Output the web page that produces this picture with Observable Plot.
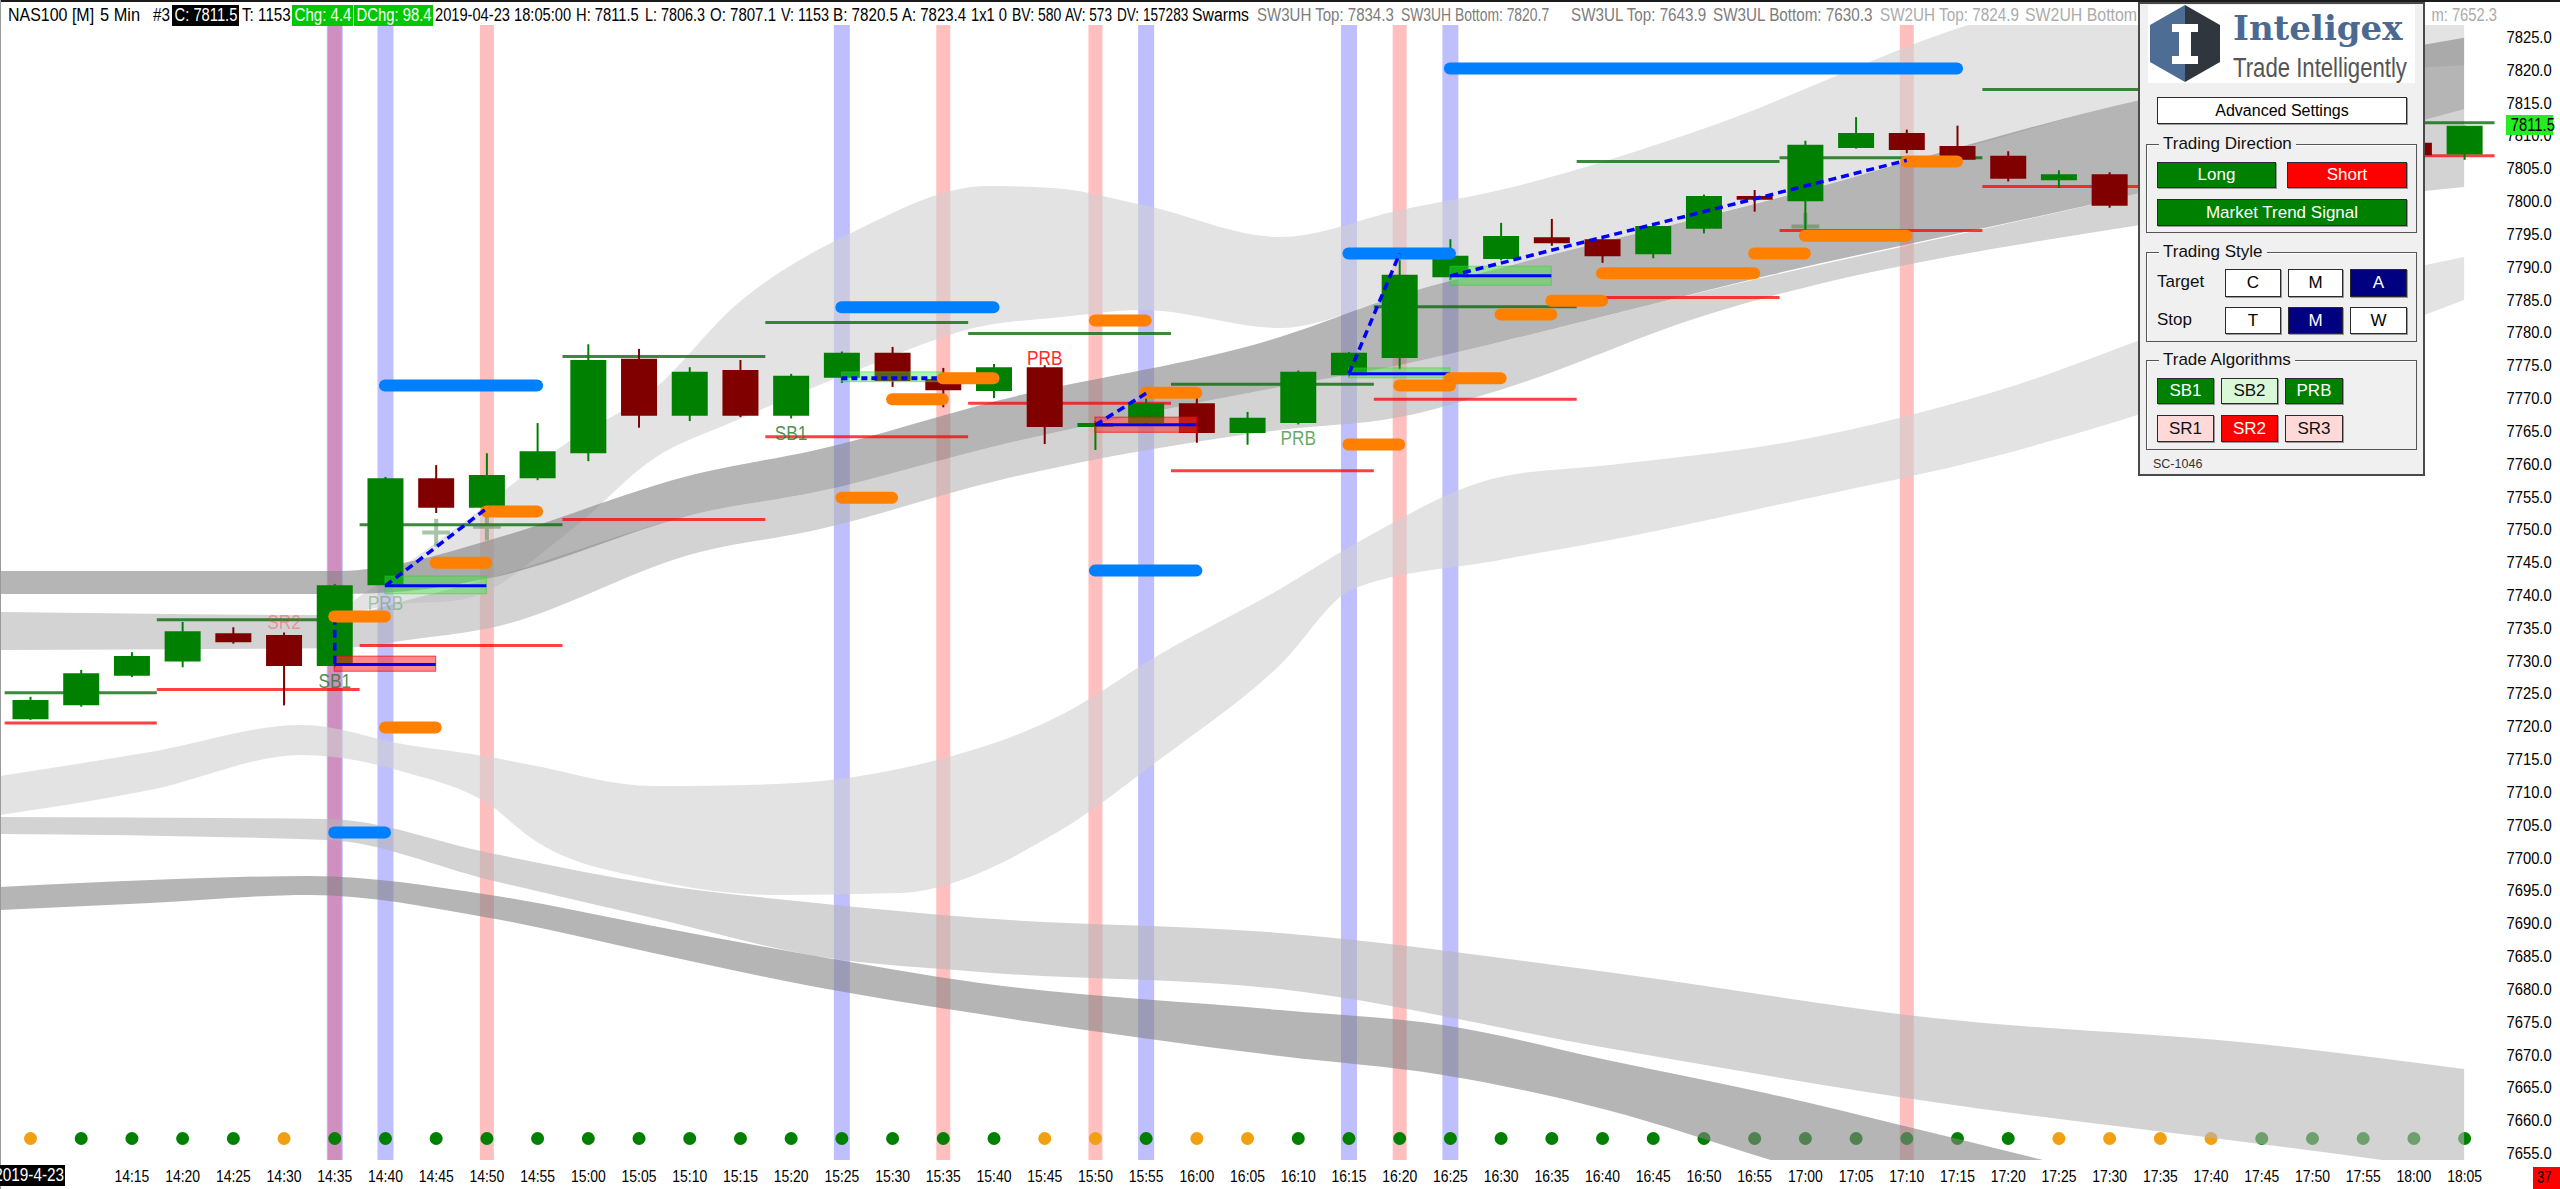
<!DOCTYPE html>
<html>
<head>
<meta charset="utf-8">
<script src="https://cdn.jsdelivr.net/npm/d3@7"></script>
<script src="https://cdn.jsdelivr.net/npm/@observablehq/plot@0.6"></script>
<style>
html,body{margin:0;padding:0;background:#fff;}
#page{position:relative;width:2560px;height:1189px;overflow:hidden;background:#fff;font-family:"Liberation Sans",Arial,sans-serif;}
#chart{position:absolute;left:0;top:0;}
#header{position:absolute;left:0;top:0;width:2560px;height:25px;background:#fff;border-top:2px solid #1b1b1b;box-sizing:border-box;z-index:2;}
.h{position:absolute;top:3px;height:21px;line-height:21px;font-size:18px;white-space:pre;color:#000;transform:scaleX(0.82);transform-origin:0 50%;}
.hbox{position:absolute;top:3px;height:21px;overflow:hidden;}
.hbox span{position:absolute;left:50%;top:0;line-height:21px;font-size:18px;white-space:pre;color:#fff;transform:translateX(-50%) scaleX(0.82);}
#panel{position:absolute;left:2138px;top:2px;width:287px;height:474px;background:#f0f0f0;border:2px solid #4a4a4a;box-sizing:border-box;z-index:5;}
.btn{position:absolute;box-sizing:border-box;border:1px solid #2a2a2a;box-shadow:1px 1px 0 #9a9a9a;display:flex;align-items:center;justify-content:center;font-size:17px;white-space:nowrap;}
.grp{position:absolute;box-sizing:border-box;border:1px solid #555;box-shadow:inset 1px 1px 0 #fff;}
.leg{position:absolute;padding:0 4px;background:#f0f0f0;font-size:17px;line-height:20px;color:#111;white-space:nowrap;}
.lbl{position:absolute;font-size:17px;line-height:24px;color:#111;}
.w{background:#fff;color:#000;} .g{background:#008000;color:#fff;} .r{background:#ff0000;color:#fff;} .n{background:#000080;color:#fff;}
.lg{background:#d8f8d8;color:#111;} .pk{background:#ffd8d8;color:#111;}
.sq{display:inline-block;transform:scaleX(0.82);transform-origin:50% 50%;white-space:nowrap;}
</style>
</head>
<body>
<div id="page">
  <div id="chart"></div>
  <div style="position:absolute;left:0;top:0;width:1px;height:1189px;background:#9a9a9a;z-index:3"></div>
  <div id="header"></div>
  <div id="panel">
    <div style="position:absolute;left:8px;top:1px;width:267px;height:78px;background:#fff"></div>
    <svg style="position:absolute;left:10px;top:1px" width="70" height="77" viewBox="0 0 70 77">
      <polygon points="35,0 0,20 0,57 35,77" fill="#4d6d95"/>
      <polygon points="35,0 70,20 70,57 35,77" fill="#2f363d"/>
      <rect x="22" y="19" width="26" height="8" fill="#fff"/>
      <rect x="29" y="26" width="12" height="26" fill="#fff"/>
      <rect x="22" y="51" width="26" height="8" fill="#fff"/>
    </svg>
    <div style="position:absolute;left:93px;top:7px;font-family:'DejaVu Serif',serif;font-weight:bold;font-size:34px;line-height:34px;color:#4a6a94;white-space:nowrap">Inteligex</div>
    <div style="position:absolute;left:93px;top:51px;font-size:27px;line-height:27px;color:#555;white-space:nowrap;transform:scaleX(0.82);transform-origin:0 50%">Trade Intelligently</div>
    <div class="btn w" style="left:17px;top:93px;width:250px;height:27px;font-size:16px">Advanced Settings</div>

    <div class="grp" style="left:6px;top:140px;width:271px;height:89px"></div>
    <div class="leg" style="left:19px;top:130px">Trading Direction</div>
    <div class="btn g" style="left:17px;top:158px;width:119px;height:26px">Long</div>
    <div class="btn r" style="left:147px;top:158px;width:120px;height:26px">Short</div>
    <div class="btn g" style="left:17px;top:195px;width:250px;height:27px">Market Trend Signal</div>

    <div class="grp" style="left:6px;top:248px;width:271px;height:90px"></div>
    <div class="leg" style="left:19px;top:238px">Trading Style</div>
    <div class="lbl" style="left:17px;top:266px">Target</div>
    <div class="btn w" style="left:85px;top:265px;width:56px;height:28px">C</div>
    <div class="btn w" style="left:148px;top:265px;width:55px;height:28px">M</div>
    <div class="btn n" style="left:210px;top:265px;width:57px;height:28px">A</div>
    <div class="lbl" style="left:17px;top:304px">Stop</div>
    <div class="btn w" style="left:85px;top:303px;width:56px;height:27px">T</div>
    <div class="btn n" style="left:148px;top:303px;width:55px;height:27px">M</div>
    <div class="btn w" style="left:210px;top:303px;width:57px;height:27px">W</div>

    <div class="grp" style="left:6px;top:356px;width:271px;height:90px"></div>
    <div class="leg" style="left:19px;top:346px">Trade Algorithms</div>
    <div class="btn g" style="left:17px;top:374px;width:57px;height:26px">SB1</div>
    <div class="btn lg" style="left:81px;top:374px;width:57px;height:26px">SB2</div>
    <div class="btn g" style="left:145px;top:374px;width:58px;height:26px">PRB</div>
    <div class="btn pk" style="left:17px;top:411px;width:57px;height:27px">SR1</div>
    <div class="btn r" style="left:81px;top:411px;width:57px;height:27px">SR2</div>
    <div class="btn pk" style="left:145px;top:411px;width:58px;height:27px">SR3</div>
    <div style="position:absolute;left:13px;top:453px;font-size:12.5px;line-height:14px;color:#333">SC-1046</div>
  </div>
  <div style="position:absolute;left:2506px;top:115px;width:47px;height:20px;line-height:20px;background:#22ee22;color:#000;font-size:18px;text-align:center;z-index:4"><span class="sq">7811.5</span></div>
  <div style="position:absolute;left:0;top:1165px;width:65px;height:21px;line-height:21px;background:#000;color:#fff;font-size:18px;overflow:hidden;white-space:nowrap;z-index:4"><span style="position:absolute;right:1px;top:0;transform:scaleX(0.85);transform-origin:100% 50%">2019-4-23</span></div>
  <div style="position:absolute;left:2533px;top:1167px;width:27px;height:22px;line-height:22px;background:#ff0000;color:#000;font-size:16px;text-align:left;z-index:4"><span style="position:absolute;left:4px;top:0;transform:scaleX(0.82);transform-origin:0 50%">37</span></div>
</div>
<script>
// ---------------- data ----------------
const times = ["14:05","14:10","14:15","14:20","14:25","14:30","14:35","14:40","14:45","14:50","14:55",
  "15:00","15:05","15:10","15:15","15:20","15:25","15:30","15:35","15:40","15:45","15:50","15:55",
  "16:00","16:05","16:10","16:15","16:20","16:25","16:30","16:35","16:40","16:45","16:50","16:55",
  "17:00","17:05","17:10","17:15","17:20","17:25","17:30","17:35","17:40","17:45","17:50","17:55",
  "18:00","18:05"];
// bars 42-46 are hidden behind the settings panel
const opens  = [7721.1,7723.2,7727.7,7729.9,7734.2,7733.9,7729.2,7741.5,7757.8,7753.3,7757.8,7761.6,7776.0,7767.3,7774.3,7767.3,7773.1,7776.9,7772.9,7771.1,7774.7,7765.6,7766.2,7769.2,7764.7,7766.2,7773.5,7776.1,7788.4,7791.2,7794.5,7794.2,7791.9,7795.8,7800.8,7800.0,7808.1,7810.4,7808.4,7806.9,7803.2,7804.1,null,null,null,null,null,7808.9,7807.1];
const highs  = [7724.5,7728.6,7731.3,7735.9,7735.1,7734.3,7741.7,7758.0,7759.8,7761.6,7766.2,7778.2,7777.5,7774.7,7775.8,7773.7,7777.1,7777.8,7774.6,7775.2,7775.0,7766.5,7770.0,7770.0,7767.9,7774.2,7777.0,7791.0,7794.2,7796.7,7797.3,7794.7,7796.6,7801.0,7801.7,7809.2,7812.8,7810.9,7811.5,7807.6,7804.7,7804.4,null,null,null,null,null,7809.2,7811.5];
const lows   = [7721.0,7723.0,7727.5,7729.0,7732.6,7723.2,7729.0,7741.3,7752.5,7752.5,7757.5,7760.4,7765.5,7766.5,7767.1,7766.9,7772.3,7771.7,7768.6,7770.0,7763.0,7762.1,7766.0,7763.2,7762.9,7766.0,7773.3,7774.4,7788.0,7791.0,7793.2,7790.6,7791.3,7795.1,7798.4,7795.6,7808.0,7807.3,7806.0,7803.0,7802.0,7799.0,null,null,null,null,null,7806.8,7806.3];
const closes = [7724.0,7728.1,7730.7,7734.5,7732.8,7729.2,7741.5,7757.8,7753.3,7758.3,7761.9,7775.8,7767.3,7774.0,7767.3,7773.4,7776.9,7772.6,7771.2,7774.7,7765.6,7766.2,7769.2,7764.7,7767.0,7774.0,7776.9,7788.8,7791.7,7794.7,7793.6,7791.6,7796.2,7800.8,7800.2,7808.6,7810.4,7807.8,7806.3,7803.4,7804.1,7799.3,null,null,null,null,null,7807.0,7811.5];

// faint ghost markers: [bar, price]
const ghostMarks = [[8,7749.6],[9,7750.5],[35,7796.2]];

// bottom signal row state per bar: A = amber, G = green
const signalState = ["A","G","G","G","G","A","G","G","G","G","G","G","G","G","G","G","G","G","G","G","A","A","G","A","A",
  "G","G","G","G","G","G","G","G","G","G","G","G","G","G","G","A","A","A","A","G","G","G","G","G"];
const signalRowLevel = 7657.3;

// swarm bands: [bar index, lower price, upper price]
const swarmUpperLight = [[6.11,7736.81,7737.73],[7.14,7738.49,7743.21],[8.48,7739.25,7750.67],[10.67,7749.91,7763.62],[12.29,7760.73,7771.24],[13.9,7766.5,7784.03],[16.31,7774.28,7795.6],[18.89,7781.14,7802.31],[20.17,7782.2,7802.0],[21.95,7783.42,7799.4],[24.65,7780.68,7794.54],[27.02,7785.7,7798.65],[28.99,7789.82,7801.7],[32.93,7797.5,7810.84],[38.34,7808.55,7827.14],[41.61,7815.41,7833.69],[48.0,7820.7,7834.3]];
const swarmUpperDark = [[-0.59,7740.16,7743.67],[6.11,7740.16,7743.67],[7.45,7740.62,7745.04],[9.07,7742.6,7748.39],[13.21,7752.5,7758.59],[15.5,7755.7,7762.1],[19.13,7762.86,7769.71],[24.65,7771.69,7779.31],[27.02,7775.04,7785.71],[28.99,7778.55,7789.82],[34.31,7788.75,7800.18],[41.61,7801.24,7815.41],[48.0,7814.0,7824.9]];
const swarmUpperMid = [[-0.59,7731.63,7737.42],[6.11,7731.94,7736.96],[7.45,7733.16,7739.25],[9.07,7734.98,7742.6],[13.21,7746.56,7752.5],[15.5,7749.91,7755.7],[19.13,7757.53,7762.86],[24.65,7765.14,7771.69],[27.02,7767.12,7775.04],[28.99,7771.24,7778.55],[32.93,7782.36,7786.1],[41.61,7796.36,7801.24],[48.0,7802.16,7814.0]];
const swarmLowerLight = [[-0.59,7706.5,7712.44],[2.37,7710.31,7716.09],[5.36,7715.64,7720.21],[7.45,7712.9,7717.16],[9.07,7708.02,7715.33],[9.88,7703.0,7714.11],[12.29,7696.6,7710.91],[14.71,7694.32,7711.22],[17.12,7694.62,7713.5],[20.33,7704.21,7721.73],[22.26,7714.88,7730.87],[24.65,7729.35,7740.93],[26.09,7740.93,7747.62],[28.99,7745.34,7757.98],[31.16,7748.39,7759.81],[34.9,7754.48,7763.62],[38.85,7761.34,7771.24],[42.79,7770.47,7781.9],[48.0,7784.94,7791.5]];
const swarmLowerMid = [[-0.59,7703.61,7706.2],[5.86,7702.69,7705.89],[9.07,7696.6,7700.71],[12.29,7690.81,7695.99],[15.5,7685.02,7693.1],[18.73,7682.59,7690.81],[24.65,7679.99,7688.53],[31.1,7671.01,7682.59],[37.53,7662.78,7675.58],[43.98,7656.39,7671.62],[48.0,7652.3,7667.81]];
const swarmLowerDark = [[-0.59,7692.03,7695.53],[2.37,7693.1,7696.6],[5.52,7694.32,7697.21],[9.07,7690.81,7694.32],[12.29,7685.48,7689.59],[15.5,7680.3,7685.02],[18.73,7676.18,7680.91],[24.65,7669.79,7676.79],[27.86,7666.9,7674.51],[31.1,7661.57,7669.18],[34.31,7654.0,7664.0],[36.88,7648.0,7659.28],[39.62,7643.0,7654.1],[42.79,7638.0,7648.0],[48.0,7630.3,7643.9]];

// signal columns (bar index)
const buyColumns = [6, 7, 16, 22, 26, 28];
const sellColumns = [6, 9, 18, 21, 27, 37];

// level lines: [from bar, to bar, price]
const targetLevels = [[-0.5,2.5,7725.2],[2.5,6.5,7736.3],[6.5,10.5,7750.8],[10.5,14.5,7776.4],[14.5,18.5,7781.6],[18.5,22.5,7779.9],[22.5,26.5,7772.2],[26.5,30.5,7784.0],[30.5,34.5,7806.1],[34.5,38.5,7806.7],[38.5,42.5,7817.1],[46.5,48.6,7812.0]];
const stopLevels = [[-0.5,2.5,7720.6],[2.5,6.5,7725.7],[6.5,10.5,7732.4],[10.5,14.5,7751.6],[14.5,18.5,7764.2],[18.5,22.5,7769.3],[22.5,26.5,7759.0],[26.5,30.5,7769.9],[30.5,34.5,7785.4],[34.5,38.5,7795.6],[38.5,42.5,7802.3],[46.5,48.6,7807.0]];

// trade zones: [from bar, to bar, low, high]
const stopZones = [[6,8,7728.4,7730.7],[21,23,7764.8,7767.1]];
const entryZones = [[7,9,7740.2,7742.9],[16,18,7772.5,7774.0],[26,28,7773.1,7774.6],[28,30,7787.2,7790.1]];
const entryLevels = [[6,8,7729.5],[7,9,7741.5],[21,23,7766.0],[26,28,7773.8],[28,30,7788.7]];
const entryDotted = [[16,18,7773.1]];

// target pills: [from bar, to bar, price]
const orangeTargets = [[6,7,7736.8],[7,8,7719.9],[8,9,7745.0],[9,10,7752.8],[16,17,7754.9],[17,18,7769.9],[18,19,7773.1],[21,22,7781.9],[22,23,7770.9],[26,27,7763.0],[27,28,7772.0],[28,29,7773.1],[29,30,7782.8],[30,31,7784.9],[31,34,7789.1],[34,35,7792.1],[35,37,7794.8],[37,38,7806.1]];
const blueTargets = [[7,10,7772.0],[16,19,7783.9],[21,23,7743.8],[6,7,7703.9],[26,28,7792.1],[28,38,7820.3]];

// dashed trend links: [bar1, price1, bar2, price2]
const trendLinks = [[6,7729.6,6,7735.9],[7,7741.5,9,7753.3],[21,7766.0,22,7770.8],[26,7773.8,27,7792.1],[28,7788.7,37,7806.3]];

// algorithm labels: [bar, price, text]
const buyLabels = [[6,7726.9,"SB1"],[15,7764.7,"SB1"]];
const sellLabels = [[20,7776.1,"PRB"]];
const fadedSellLabels = [[5,7736.0,"SR2"]];
const fadedBuyLabels = [[7,7738.8,"PRB"]];
const mutedBuyLabels = [[25,7763.9,"PRB"]];

const yTicks = d3.range(7655, 7826, 5);
const xTicks = d3.range(2, 49);

// header text line
const headerTexts = ["NAS100 [M]","5 Min","#3","C: 7811.5","T: 1153","Chg: 4.4","DChg: 98.4","2019-04-23 18:05:00","H: 7811.5",
  "L: 7806.3","O: 7807.1","V: 1153","B: 7820.5","A: 7823.4","1x1 0","BV: 580","AV: 573","DV: 157283","Swarms",
  "SW3UH Top: 7834.3","SW3UH Bottom: 7820.7","SW3UL Top: 7643.9","SW3UL Bottom: 7630.3","SW2UH Top: 7824.9","SW2UH Bottom"];
const headerKinds = ["t","t","t","black","t","green","green","t","t","t","t","t","t","t","t","t","t","t","t","s3","s3","s3","s3","s2","s2"];
// header layout (pixel spans of each text)
const headerSpans = [[8,94],[100,140],[153,170],[172,239],[242,291],[292,353],[354,433],[435,571],[576,639],[645,705],[710,776],
  [781,829],[833,898],[902,966],[971,1007],[1012,1061],[1065,1112],[1117,1188],[1192,1249],[1257,1394],[1401,1549],[1571,1706],
  [1713,1872],[1880,2019],[2025,2137]];

// ---------------- header ----------------
const header = document.getElementById("header");
headerTexts.forEach((txt, k) => {
  const kind = headerKinds[k], [x0, x1] = headerSpans[k];
  if (kind === "black" || kind === "green") {
    const b = document.createElement("div");
    b.className = "hbox";
    b.style.left = x0 + "px"; b.style.width = (x1 - x0) + "px";
    b.style.background = kind === "black" ? "#000" : "#00c800";
    const s = document.createElement("span"); s.textContent = txt; b.appendChild(s);
    header.appendChild(b);
    const sc = Math.min(0.9, (x1 - x0 - 4) / s.offsetWidth);
    s.style.transform = `translateX(-50%) scaleX(${sc.toFixed(3)})`;
  } else {
    const s = document.createElement("div");
    s.className = "h"; s.style.left = x0 + "px"; s.textContent = txt;
    if (kind === "s3") s.style.color = "#7c7c7c";
    if (kind === "s2") s.style.color = "#ababab";
    header.appendChild(s);
    const sc = (x1 - x0) / s.offsetWidth;
    s.style.transform = `scaleX(${sc.toFixed(3)})`;
  }
});
// last swarm value, partly hidden by the settings panel
const clipB = document.createElement("div");
clipB.style.cssText = "position:absolute;left:2427px;top:3px;width:70px;height:21px;overflow:hidden";
clipB.innerHTML = '<div class="h" style="left:auto;right:0;top:0;color:#ababab;transform-origin:100% 50%">m: 7652.3</div>';
header.appendChild(clipB);

// ---------------- chart ----------------
const bars = times.map((t, i) => ({i, o: opens[i], h: highs[i], l: lows[i], c: closes[i]})).filter(d => d.o != null);
const candleColor = d => d.c >= d.o ? "#008000" : "#800000";
const signalPalette = {A: "#f0a010", G: "#008000"};
const band = (data, fill) => Plot.areaY(data, {x: d => d[0], y1: d => d[1], y2: d => d[2], fill, fillOpacity: 0.6, curve: "monotone-x", clip: true});
const lbl = (data, fill, opacity) => Plot.text(data, {x: d => d[0], y: d => d[1], text: d => d[2], fill, fillOpacity: opacity, fontSize: 21, lineAnchor: "middle"});

const chart = Plot.plot({
  width: 2560, height: 1189,
  marginLeft: 0, marginRight: 65, marginTop: 0, marginBottom: 29,
  x: {domain: [-0.5916, 48.609], axis: null},
  y: {domain: [7653.95, 7830.64], axis: null},
  style: {background: "transparent", fontFamily: "Liberation Sans, Arial, sans-serif", color: "#000"},
  marks: [
    Plot.ruleX(buyColumns, {x: d => d, stroke: "#0000ff", strokeOpacity: 0.25, strokeWidth: 16}),
    Plot.ruleX(sellColumns, {x: d => d, stroke: "#ff0000", strokeOpacity: 0.25, strokeWidth: 14}),
    Plot.dot(signalState.map((s, i) => ({i, s})), {x: "i", y: () => signalRowLevel, r: 6.5, fill: d => signalPalette[d.s]}),
    band(swarmUpperLight, "#d0d0d0"),
    band(swarmUpperMid, "#b5b5b5"),
    band(swarmUpperDark, "#848484"),
    band(swarmLowerLight, "#d0d0d0"),
    band(swarmLowerMid, "#b5b5b5"),
    band(swarmLowerDark, "#848484"),
    Plot.ruleY(targetLevels, {x1: d => d[0], x2: d => d[1], y: d => d[2], stroke: "#0b6b0b", strokeWidth: 3, strokeOpacity: 0.8, clip: true}),
    Plot.ruleY(stopLevels, {x1: d => d[0], x2: d => d[1], y: d => d[2], stroke: "#ff0000", strokeWidth: 3, strokeOpacity: 0.75, clip: true}),
    Plot.dot(ghostMarks, {x: d => d[0], y: d => d[1], symbol: "plus", r: 9, stroke: "#3f7f3f", strokeWidth: 4, strokeOpacity: 0.45}),
    Plot.ruleX(bars, {x: "i", y1: "l", y2: "h", stroke: candleColor, strokeWidth: 2}),
    Plot.ruleX(bars, {x: "i", y1: "o", y2: "c", stroke: candleColor, strokeWidth: 36}),
    Plot.rect(stopZones, {x1: d => d[0], x2: d => d[1], y1: d => d[2], y2: d => d[3], fill: "#ff3030", fillOpacity: 0.55, stroke: "#ff0000", strokeOpacity: 0.7}),
    Plot.rect(entryZones, {x1: d => d[0], x2: d => d[1], y1: d => d[2], y2: d => d[3], fill: "#33ee33", fillOpacity: 0.4, stroke: "#33cc33", strokeOpacity: 0.5}),
    Plot.ruleY(entryLevels, {x1: d => d[0], x2: d => d[1], y: d => d[2], stroke: "#0000ff", strokeWidth: 3}),
    Plot.ruleY(entryDotted, {x1: d => d[0], x2: d => d[1], y: d => d[2], stroke: "#0000ff", strokeWidth: 4, strokeDasharray: "6,4"}),
    Plot.ruleY(orangeTargets, {x1: d => d[0], x2: d => d[1], y: d => d[2], stroke: "#ff8000", strokeWidth: 12, strokeLinecap: "round"}),
    Plot.ruleY(blueTargets, {x1: d => d[0], x2: d => d[1], y: d => d[2], stroke: "#0080ff", strokeWidth: 12, strokeLinecap: "round"}),
    Plot.link(trendLinks, {x1: d => d[0], y1: d => d[1], x2: d => d[2], y2: d => d[3], stroke: "#0000ff", strokeWidth: 3.5, strokeDasharray: "8,5"}),
    lbl(buyLabels, "#2e7d32", 0.85),
    lbl(sellLabels, "#ff2a2a", 1),
    lbl(fadedSellLabels, "#ff3030", 0.4),
    lbl(fadedBuyLabels, "#3a8a3a", 0.4),
    lbl(mutedBuyLabels, "#4a9a4a", 0.85),
    Plot.axisY({anchor: "right", ticks: yTicks, tickSize: 0, tickPadding: 11, tickFormat: d => d.toFixed(1), fontSize: 17}),
    Plot.axisX({anchor: "bottom", ticks: xTicks, tickSize: 0, tickPadding: 9, tickFormat: i => times[i], fontSize: 17})
  ]
});
document.getElementById("chart").appendChild(chart);
// condense all chart texts (the original uses a narrow face)
chart.querySelectorAll("text").forEach(t => {
  const len = t.getComputedTextLength();
  const k = t.textContent.includes(".") && t.textContent.length === 6 ? 0.87 : 0.82;
  if (len > 0) { t.setAttribute("textLength", (len * k).toFixed(1)); t.setAttribute("lengthAdjust", "spacingAndGlyphs"); }
});
</script>
</body>
</html>
